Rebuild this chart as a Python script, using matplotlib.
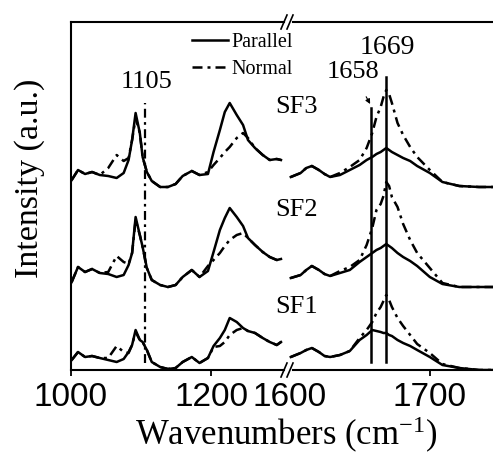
import matplotlib
matplotlib.use("Agg")
import matplotlib.pyplot as plt

plt.rcParams['font.family'] = ['Liberation Serif', 'DejaVu Serif']
plt.rcParams['mathtext.fontset'] = 'custom'
plt.rcParams['mathtext.rm'] = 'Liberation Serif'
plt.rcParams['mathtext.it'] = 'Liberation Serif:italic'
plt.rcParams['mathtext.bf'] = 'Liberation Serif:bold'
plt.rcParams['lines.solid_joinstyle'] = 'round'
plt.rcParams['lines.dash_joinstyle'] = 'round'

# wavenumbers (cm-1) of the left panel
left_wn = [1001, 1010, 1020, 1030, 1041, 1053, 1065, 1075, 1082, 1087, 1092, 1098,
           1102, 1108, 1115, 1127, 1138, 1149, 1159, 1172, 1183, 1195, 1203, 1212,
           1219, 1226, 1236, 1245, 1252, 1262, 1273, 1283, 1293, 1299]
sf3_par_left = [190, 200, 196, 198, 195, 194, 192, 197, 210, 230, 257, 237, 213, 198,
                189, 183, 183, 186, 194, 199, 195, 196, 218, 240, 258, 267, 255, 245,
                230, 222, 215, 210, 211, 210]
sf3_nor_left = [190, 200, 196, 198, 195, 202, 215, 209, 212, 230, 252, 237, 213, 198,
                189, 183, 183, 186, 194, 199, 195, 198, 205, 212, 218, 223, 232, 237,
                232, 222, 215, 210, 211, 210]
sf2_par_left = [88, 103, 98, 101, 97, 96, 93, 95, 105, 117, 153, 135, 123, 102, 90, 85,
                83, 85, 93, 100, 93, 99, 118, 140, 152, 162, 153, 144, 132, 125, 118,
                113, 110, 111]
sf2_nor_left = [88, 103, 98, 101, 97, 98, 114, 108, 106, 117, 150, 135, 123, 102, 90, 85,
                83, 85, 93, 100, 93, 104, 110, 117, 124, 130, 135, 137, 132, 125, 118,
                113, 110, 111]
sf1_par_left = [10, 18, 13, 14, 12, 10, 8, 11, 18, 25, 40, 30, 28, 20, 8, 3, 1, 2, 8, 13,
                7, 12, 24, 32, 40, 52, 48, 42, 39, 37, 32, 28, 25, 28]
sf1_nor_left = [10, 18, 13, 14, 12, 12, 24, 18, 17, 25, 38, 30, 28, 20, 8, 3, 1, 2, 8, 13,
                7, 12, 23, 24, 28, 35, 40, 42, 39, 37, 32, 28, 25, 28]

# wavenumbers (cm-1) of the right panel
right_wn = [1601, 1608, 1612, 1616, 1621, 1625, 1629, 1636, 1643, 1650, 1655, 1659, 1662,
            1665, 1667, 1669, 1671, 1673, 1677, 1681, 1686, 1691, 1700, 1709, 1721, 1735,
            1745]
sf3_par_right = [193, 197, 202, 204, 200, 196, 193, 195, 200, 205, 210, 213, 216, 218,
                 220, 222, 220, 218, 215, 212, 209, 204, 197, 188, 184, 183, 183]
sf3_nor_right = [193, 197, 202, 204, 200, 196, 193, 197, 203, 210, 222, 237, 253, 263,
                 273, 280, 276, 267, 247, 235, 223, 213, 200, 188, 184, 183, 183]
sf2_par_right = [92, 95, 100, 104, 100, 96, 94, 97, 100, 108, 113, 117, 120, 122, 124,
                 126, 124, 122, 117, 113, 109, 104, 93, 86, 83, 83, 83]
sf2_nor_right = [92, 95, 100, 104, 100, 96, 94, 99, 103, 110, 125, 142, 160, 166, 174,
                 188, 184, 173, 163, 146, 130, 117, 102, 87, 83, 83, 83]
sf1_par_right = [13, 17, 20, 22, 18, 14, 13, 15, 19, 30, 35, 40, 39, 38, 37, 37, 35, 34,
                 30, 27, 24, 20, 13, 5, 2, 0, 0]
sf1_nor_right = [13, 17, 20, 22, 18, 14, 13, 15, 19, 32, 40, 48, 57, 63, 69, 75, 70, 63,
                 52, 44, 35, 26, 17, 6, 2, 0, 0]

sample_names = ["SF3", "SF2", "SF1"]
sample_label_y = [263, 160, 63]

dash_dot = (0, (4, 2, 1.2, 2))
lw = 1.8

W, H = 493, 454
fig = plt.figure(figsize=(W / 100, H / 100), dpi=100)
ax1 = fig.add_axes([71 / W, 84 / H, 217 / W, 348 / H])
ax2 = fig.add_axes([288 / W, 84 / H, 205 / W, 348 / H])

for ax in (ax1, ax2):
    ax.set_ylim(0, 348)
    ax.set_yticks([])
    ax.spines['right'].set_visible(False)
    for s in ('top', 'bottom', 'left'):
        ax.spines[s].set_linewidth(1.5)
    ax.tick_params(axis='x', direction='out', length=4, width=1.3, pad=5)
ax2.spines['left'].set_visible(False)

ax1.set_xlim(1000, 1309)
ax2.set_xlim(1599, 1745)
ax1.spines['top'].set_bounds(1000, 1304)
ax1.spines['bottom'].set_bounds(1000, 1304)
ax2.spines['top'].set_bounds(1602.5, 1745)
ax2.spines['bottom'].set_bounds(1602.5, 1745)

ax1.set_xticks([1000, 1200])
ax2.set_xticks([1600, 1700])
ax2.xaxis.get_major_ticks()[0].tick1line.set_visible(False)
for ax in (ax1, ax2):
    for lab in ax.get_xticklabels():
        lab.set_family('Liberation Sans')
        lab.set_fontsize(24)

# spectra
p_line, = ax1.plot(left_wn, sf3_par_left, color='black', lw=lw, label='Parallel')
n_line, = ax1.plot(left_wn, sf3_nor_left, color='black', lw=lw, ls=dash_dot, label='Normal')
for par, nor in ((sf2_par_left, sf2_nor_left), (sf1_par_left, sf1_nor_left)):
    ax1.plot(left_wn, par, color='black', lw=lw)
    ax1.plot(left_wn, nor, color='black', lw=lw, ls=dash_dot)
for par, nor in ((sf3_par_right, sf3_nor_right), (sf2_par_right, sf2_nor_right),
                 (sf1_par_right, sf1_nor_right)):
    ax2.plot(right_wn, par, color='black', lw=lw)
    ax2.plot(right_wn, nor, color='black', lw=lw, ls=dash_dot)

# marker lines
ax1.plot([1105, 1105], [7, 267], color='black', lw=1.6, ls=dash_dot)
ax2.plot([1658, 1658], [8, 262], color='black', lw=1.8)
ax2.plot([1669, 1669], [8, 293], color='black', lw=1.8)

ax1.text(1108, 288, "1105", fontsize=19, ha='center', va='center')
ax2.text(1670, 322, "1669", fontsize=20, ha='center', va='center')
ax2.annotate("1658", xy=(1657.5, 266), xytext=(1645, 298), fontsize=19,
             ha='center', va='center',
             arrowprops=dict(arrowstyle='-|>', color='black', lw=0.8,
                             shrinkA=9, shrinkB=0, mutation_scale=7))

for name, yy in zip(sample_names, sample_label_y):
    ax2.text(1605, yy, name, fontsize=19, ha='center', va='center', clip_on=False)

# axis break marks
for yb in (0.0, 1.0):
    for xb in (-4, 2):
        ax2.plot([(xb - 3) / 205, (xb + 3) / 205], [yb - 7 / 348, yb + 7 / 348],
                 transform=ax2.transAxes, color='black', lw=1.2, clip_on=False)

leg = fig.legend(handles=[p_line, n_line], loc='upper left',
                 bbox_to_anchor=(192 / W, 1 - 33 / H), frameon=False, fontsize=14.5,
                 handlelength=1.8, handletextpad=0.15, labelspacing=0.4,
                 borderpad=0, borderaxespad=0)

fig.text(286 / W, 1 - 445 / H, "Wavenumbers (cm$^{-1}$)", fontsize=25,
         ha='center', va='baseline')
fig.text(30 / W, 1 - 178 / H, "Intensity (a.u.)", fontsize=24.5, rotation=90,
         ha='center', va='center')

fig.savefig("out.png", dpi=100)
